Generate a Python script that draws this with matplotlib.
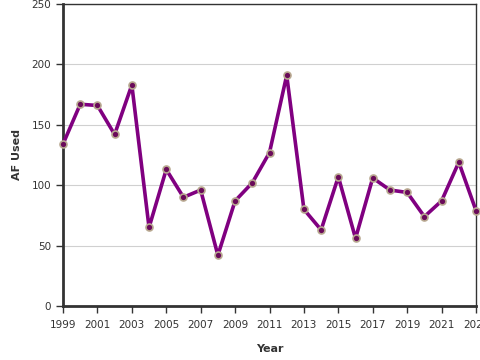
import matplotlib
matplotlib.use("Agg")
import matplotlib.pyplot as plt

years = list(range(1999, 2024))
af_used = [134, 167, 166, 142, 183, 65, 113, 90, 96, 42, 87, 102, 127, 191,
           80, 63, 107, 56, 106, 96, 94, 74, 87, 119, 79]
xticks = list(range(1999, 2024, 2))
yticks = [0, 50, 100, 150, 200, 250]

plt.rcParams['font.family'] = ['DejaVu Sans']
fig = plt.figure(figsize=(4.8, 3.6), dpi=100)
ax = fig.add_axes([63/480, 54/360, 413/480, 302/360])

ax.plot(years, af_used, color='#800080', lw=2.6, marker='o', ms=5,
        markerfacecolor='#6a0a5a', markeredgecolor='#b8a890', markeredgewidth=1.2,
        clip_on=False, zorder=3)

ax.set_xlim(1999, 2023)
ax.set_ylim(0, 250)
ax.set_xticks(xticks)
ax.set_yticks(yticks)
ax.tick_params(labelsize=7.5, colors='#333333', length=5, width=1)
ax.tick_params(axis='x', pad=5)
ax.grid(axis='y', color='#d0d0d0', lw=0.8)
ax.set_axisbelow(True)
for s in ['left', 'bottom']:
    ax.spines[s].set_linewidth(2)
    ax.spines[s].set_color('#333333')
for s in ['right', 'top']:
    ax.spines[s].set_linewidth(1)
    ax.spines[s].set_color('#333333')
ax.set_xlabel('Year', fontsize=8, fontweight='bold', color='#333333', labelpad=10)
ax.set_ylabel('AF Used', fontsize=8, fontweight='bold', color='#333333', labelpad=7)

fig.savefig('out.png', dpi=100)
